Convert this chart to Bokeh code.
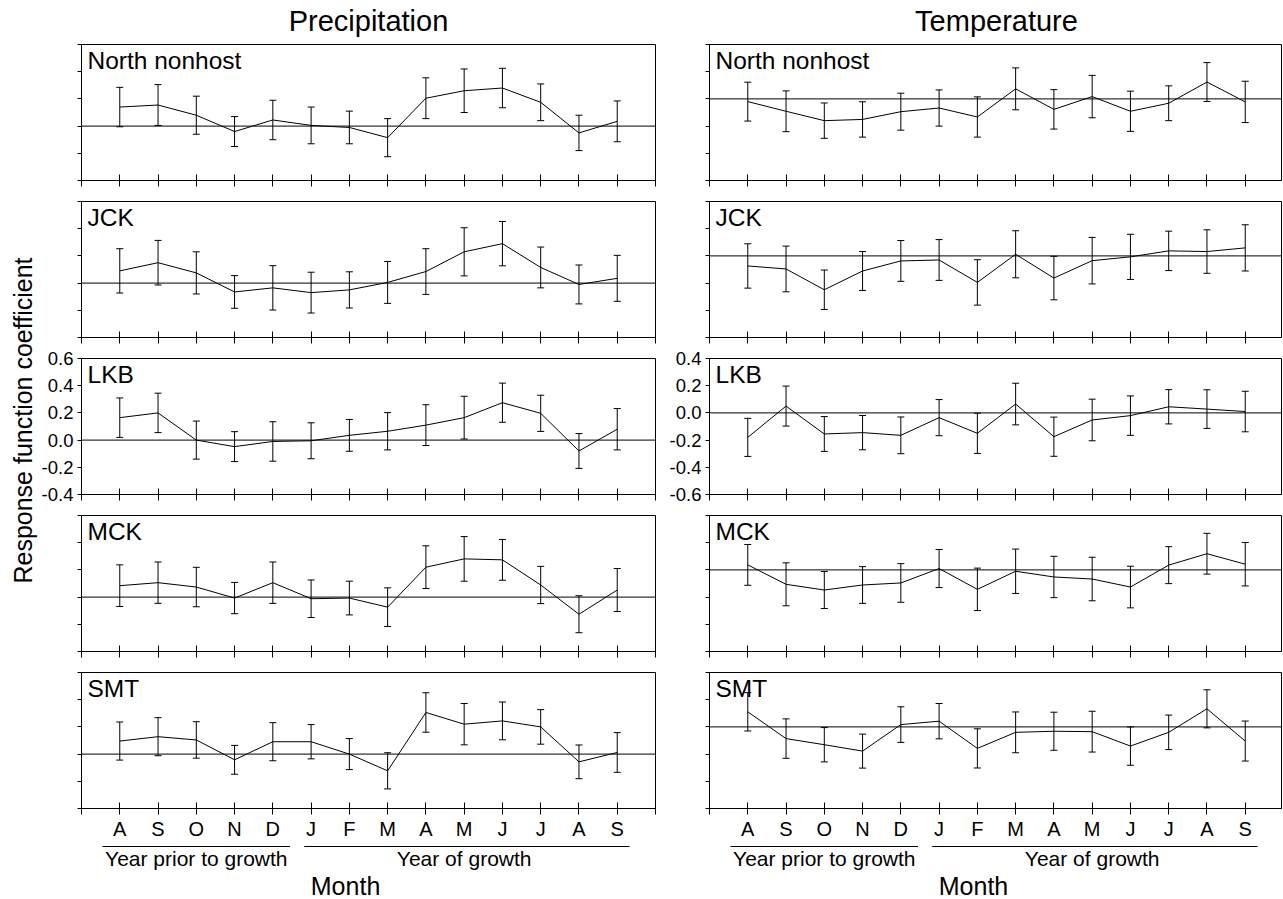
import math
from bokeh.plotting import figure
from bokeh.layouts import row, column
from bokeh.models import Range1d, FixedTicker, Span, Whisker, TeeHead, ColumnDataSource
from bokeh.core.properties import value
from bokeh.embed import file_html
from bokeh.resources import INLINE

# ---------------- data ----------------
months = ["A", "S", "O", "N", "D", "J", "F", "M", "A", "M", "J", "J", "A", "S"]
month_pos = list(range(1, 15))
sites = ["North nonhost", "JCK", "LKB", "MCK", "SMT"]
column_titles = ["Precipitation", "Temperature"]
groups = ["Year prior to growth", "Year of growth"]
group_first = [1, 6]
group_last = [5, 14]
x_label = "Month"
y_label = "Response function coefficient"

prec_ticks = [-0.4, -0.2, 0.0, 0.2, 0.4, 0.6]
prec_tick_labels = ["-0.4", "-0.2", "0.0", "0.2", "0.4", "0.6"]
temp_ticks = [-0.6, -0.4, -0.2, 0.0, 0.2, 0.4]
temp_tick_labels = ["-0.6", "-0.4", "-0.2", "0.0", "0.2", "0.4"]

# Precipitation response coefficients (mean) and error-bar half widths
prec_north = [0.14, 0.155, 0.08, -0.04, 0.045, 0.005, -0.01, -0.085, 0.205, 0.26, 0.28, 0.175, -0.05, 0.035]
prec_north_err = [0.145, 0.15, 0.14, 0.11, 0.145, 0.135, 0.12, 0.14, 0.15, 0.16, 0.145, 0.135, 0.13, 0.15]
prec_jck = [0.09, 0.15, 0.075, -0.065, -0.035, -0.07, -0.05, 0.005, 0.085, 0.23, 0.29, 0.115, -0.01, 0.035]
prec_jck_err = [0.163, 0.164, 0.155, 0.12, 0.163, 0.15, 0.133, 0.154, 0.168, 0.177, 0.163, 0.15, 0.143, 0.169]
prec_lkb = [0.165, 0.2, 0.0, -0.048, -0.01, -0.005, 0.035, 0.065, 0.11, 0.165, 0.275, 0.197, -0.08, 0.08]
prec_lkb_err = [0.145, 0.145, 0.14, 0.11, 0.145, 0.132, 0.117, 0.137, 0.15, 0.157, 0.144, 0.133, 0.128, 0.152]
prec_mck = [0.084, 0.106, 0.074, -0.007, 0.106, -0.012, -0.007, -0.074, 0.22, 0.281, 0.274, 0.089, -0.126, 0.052]
prec_mck_err = [0.153, 0.152, 0.145, 0.115, 0.152, 0.138, 0.124, 0.142, 0.157, 0.164, 0.15, 0.137, 0.136, 0.158]
prec_smt = [0.096, 0.128, 0.104, -0.042, 0.091, 0.091, 0.0, -0.123, 0.306, 0.22, 0.244, 0.2, -0.057, 0.012]
prec_smt_err = [0.14, 0.14, 0.134, 0.106, 0.14, 0.126, 0.114, 0.133, 0.145, 0.152, 0.139, 0.127, 0.124, 0.146]

# Temperature response coefficients (mean) and error-bar half widths
temp_north = [-0.02, -0.091, -0.16, -0.151, -0.094, -0.067, -0.133, 0.074, -0.077, 0.017, -0.091, -0.032, 0.124, -0.022]
temp_north_err = [0.143, 0.15, 0.13, 0.13, 0.136, 0.133, 0.148, 0.154, 0.145, 0.156, 0.148, 0.128, 0.143, 0.152]
temp_jck = [-0.074, -0.096, -0.249, -0.111, -0.037, -0.03, -0.195, 0.012, -0.163, -0.035, -0.007, 0.037, 0.032, 0.059]
temp_jck_err = [0.163, 0.168, 0.145, 0.143, 0.15, 0.15, 0.167, 0.173, 0.16, 0.171, 0.166, 0.145, 0.16, 0.17]
temp_lkb = [-0.18, 0.05, -0.155, -0.145, -0.165, -0.035, -0.15, 0.065, -0.175, -0.052, -0.02, 0.045, 0.028, 0.01]
temp_lkb_err = [0.14, 0.147, 0.128, 0.126, 0.135, 0.133, 0.148, 0.153, 0.144, 0.153, 0.145, 0.126, 0.142, 0.149]
temp_mck = [0.037, -0.106, -0.148, -0.111, -0.096, 0.01, -0.143, -0.01, -0.052, -0.067, -0.126, 0.035, 0.119, 0.042]
temp_mck_err = [0.15, 0.158, 0.136, 0.135, 0.142, 0.14, 0.156, 0.163, 0.152, 0.16, 0.153, 0.136, 0.15, 0.16]
temp_smt = [0.111, -0.086, -0.131, -0.178, 0.017, 0.042, -0.158, -0.04, -0.032, -0.035, -0.141, -0.04, 0.133, -0.104]
temp_smt_err = [0.141, 0.145, 0.126, 0.125, 0.131, 0.13, 0.144, 0.15, 0.14, 0.15, 0.141, 0.127, 0.14, 0.147]

prec_series = [(prec_north, prec_north_err), (prec_jck, prec_jck_err), (prec_lkb, prec_lkb_err),
               (prec_mck, prec_mck_err), (prec_smt, prec_smt_err)]
temp_series = [(temp_north, temp_north_err), (temp_jck, temp_jck_err), (temp_lkb, temp_lkb_err),
               (temp_mck, temp_mck_err), (temp_smt, temp_smt_err)]

# ---------------- layout constants ----------------
FONT = "Liberation Sans"
PX_PER_MONTH = 38.4
FRAME_H = 136
PANEL_TOP = 10
FIRST_TOP = 2
PANEL_H = 157
LAST_H = 182
TITLE_H = 42
BOTTOM_H = 54
YLAB_W = 38
BORDER_L = 41
FRAME_W = [576, 574]
BORDER_R = [11, 1]
FIG_W = [BORDER_L + FRAME_W[0] + BORDER_R[0], BORDER_L + FRAME_W[1] + BORDER_R[1]]
x_ranges = [Range1d(0, FRAME_W[0] / PX_PER_MONTH), Range1d(0, FRAME_W[1] / PX_PER_MONTH)]


def base_fig(col, height, y_range, top_border, bottom_border, axes=True):
    kw = dict(width=FIG_W[col], height=height, x_range=x_ranges[col], y_range=y_range,
              output_backend="svg", toolbar_location=None,
              min_border_left=BORDER_L, min_border_right=BORDER_R[col],
              min_border_top=top_border, min_border_bottom=bottom_border,
              background_fill_color="white", border_fill_color="white")
    if not axes:
        kw.update(x_axis_type=None, y_axis_type=None)
    p = figure(**kw)
    p.grid.visible = False
    return p


def make_panel(col, r):
    ticks = prec_ticks if col == 0 else temp_ticks
    tlabels = prec_tick_labels if col == 0 else temp_tick_labels
    mean, err = (prec_series if col == 0 else temp_series)[r]
    last = r == len(sites) - 1
    top = FIRST_TOP if r == 0 else PANEL_TOP
    h = (LAST_H if last else PANEL_H) - (PANEL_TOP - top)
    p = base_fig(col, h, Range1d(ticks[0], ticks[-1]), top, h - FRAME_H - top)
    p.outline_line_color = "black"
    p.outline_line_width = 1

    p.add_layout(Span(location=0, dimension="width", line_color="black", line_width=1))
    src = ColumnDataSource(dict(x=month_pos, y=mean,
                                upper=[m + e for m, e in zip(mean, err)],
                                lower=[m - e for m, e in zip(mean, err)]))
    p.add_layout(Whisker(source=src, base="x", upper="upper", lower="lower", dimension="height",
                         line_color="black", line_width=1,
                         upper_head=TeeHead(size=7, line_color="black", line_width=1),
                         lower_head=TeeHead(size=7, line_color="black", line_width=1)))
    p.line("x", "y", source=src, line_color="black", line_width=1)

    p.text(x=[0], y=[ticks[-1]], text=[sites[r]], x_offset=6, y_offset=2,
           text_align="left", text_baseline="top", text_font=value(FONT),
           text_font_size="24.5px", text_color="black")

    # x axis
    xa = p.xaxis[0]
    xa.ticker = FixedTicker(ticks=list(range(0, 16)))
    ov = {i: "" for i in range(0, 16)}
    if last:
        for pos, m in zip(month_pos, months):
            ov[pos] = m
    xa.major_label_overrides = ov
    xa.major_tick_in = 6
    xa.major_tick_out = 6
    xa.minor_tick_line_color = None
    xa.axis_line_color = "black"
    xa.major_tick_line_color = "black"
    xa.major_label_text_font = FONT
    xa.major_label_text_color = "black"
    xa.major_label_standoff = 3
    xa.major_label_text_font_size = "20px"

    # y axis
    ya = p.yaxis[0]
    ya.ticker = FixedTicker(ticks=ticks)
    if r == 2:
        ya.major_label_overrides = {t: l for t, l in zip(ticks, tlabels)}
    else:
        ya.major_label_overrides = {t: "" for t in ticks}
    ya.major_tick_in = 0
    ya.major_tick_out = 4
    ya.minor_tick_line_color = None
    ya.axis_line_color = "black"
    ya.major_tick_line_color = "black"
    ya.major_label_text_font = FONT
    ya.major_label_text_color = "black"
    ya.major_label_standoff = 4
    ya.major_label_text_font_size = "18.5px"
    return p


def make_title(col):
    t = base_fig(col, TITLE_H, Range1d(0, TITLE_H), 0, 0, axes=False)
    t.outline_line_color = None
    t.text(x=[7.5], y=[22], text=[column_titles[col]], text_align="center",
           text_baseline="alphabetic", text_font=value(FONT), text_font_size="29px",
           text_color="black")
    return t


def make_bottom(col):
    b = base_fig(col, BOTTOM_H, Range1d(0, BOTTOM_H), 0, 0, axes=False)
    b.outline_line_color = None
    pads = [(0.45, 0.45), (0.18, 0.32)]
    x0 = [f - pads[i][0] for i, f in enumerate(group_first)]
    x1 = [l + pads[i][1] for i, l in enumerate(group_last)]
    b.segment(x0=x0, y0=[52, 52], x1=x1, y1=[52, 52], line_color="black", line_width=1)
    centers = [(f + l) / 2 for f, l in zip(group_first, group_last)]
    b.text(x=centers, y=[40.5, 40.5], text=groups, text_align="center",
           text_baseline="alphabetic", text_font=value(FONT), text_font_size="21px",
           text_color="black")
    b.text(x=[6.9], y=[13], text=[x_label], text_align="center", text_baseline="alphabetic",
           text_font=value(FONT), text_font_size="25px", text_color="black")
    return b


total_h = TITLE_H + PANEL_H * 4 - (PANEL_TOP - FIRST_TOP) + LAST_H + BOTTOM_H
ylab = figure(width=YLAB_W, height=total_h, x_range=Range1d(0, YLAB_W), y_range=Range1d(0, total_h),
              output_backend="svg", toolbar_location=None, x_axis_type=None, y_axis_type=None,
              min_border_left=0, min_border_right=0, min_border_top=0, min_border_bottom=0,
              background_fill_color="white", border_fill_color="white")
ylab.outline_line_color = None
ylab.grid.visible = False
ylab.text(x=[22], y=[total_h - 420], text=[y_label],
          angle=math.pi / 2, text_align="center", text_baseline="middle",
          text_font=value(FONT), text_font_size="25px", text_color="black")

cols = []
for c in range(2):
    items = [make_title(c)] + [make_panel(c, r) for r in range(len(sites))] + [make_bottom(c)]
    cols.append(column(*items, spacing=0))

layout = row(ylab, cols[0], cols[1], spacing=0)

open("out.html", "w").write(file_html(layout, INLINE))
